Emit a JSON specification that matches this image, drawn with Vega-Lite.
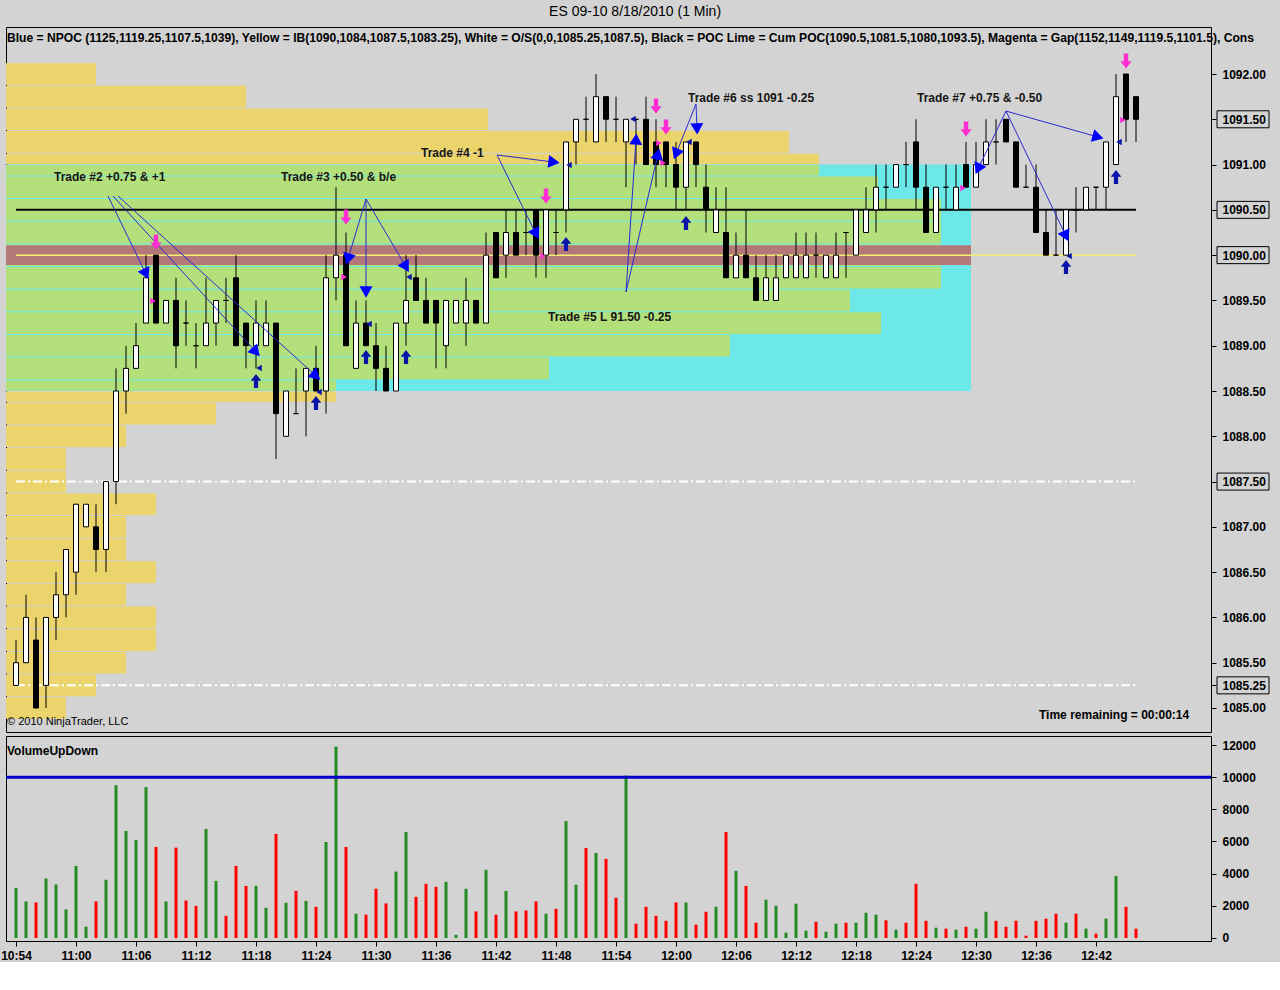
{
  "$schema": "https://vega.github.io/schema/vega-lite/v6.json",
  "background": "#d3d3d3",
  "padding": {"left": 0, "top": 4, "right": 12, "bottom": 0},
  "title": {"text": "ES 09-10  8/18/2010 (1 Min)", "anchor": "middle", "fontSize": 14, "fontWeight": "normal", "color": "#000", "offset": 8},
  "config": {
    "font": "Liberation Sans",
    "view": {"stroke": "#000", "strokeWidth": 1}
  },
  "data": {"name": "bars", "format": {"parse": {"time": "date:'%H:%M'"}}},
  "datasets": {
    "bars": [
      {"time":"10:54","open":1085.25,"high":1085.75,"low":1085.25,"close":1085.5,"vol":3120},
      {"time":"10:55","open":1085.5,"high":1086.25,"low":1085.5,"close":1086,"vol":2270},
      {"time":"10:56","open":1085.75,"high":1086,"low":1085,"close":1085,"vol":2210},
      {"time":"10:57","open":1085.25,"high":1086,"low":1085,"close":1086,"vol":3700},
      {"time":"10:58","open":1086,"high":1086.5,"low":1085.75,"close":1086.25,"vol":3330},
      {"time":"10:59","open":1086.25,"high":1086.75,"low":1086,"close":1086.75,"vol":1780},
      {"time":"11:00","open":1086.5,"high":1087.25,"low":1086.25,"close":1087.25,"vol":4480},
      {"time":"11:01","open":1087,"high":1087.25,"low":1087,"close":1087.25,"vol":700},
      {"time":"11:02","open":1087,"high":1087.25,"low":1086.5,"close":1086.75,"vol":2270},
      {"time":"11:03","open":1086.75,"high":1087.5,"low":1086.5,"close":1087.5,"vol":3620},
      {"time":"11:04","open":1087.5,"high":1088.75,"low":1087.25,"close":1088.5,"vol":9500},
      {"time":"11:05","open":1088.5,"high":1089,"low":1088.25,"close":1088.75,"vol":6650},
      {"time":"11:06","open":1088.75,"high":1089.25,"low":1088.75,"close":1089,"vol":6100},
      {"time":"11:07","open":1089.25,"high":1090,"low":1089.25,"close":1089.75,"vol":9380},
      {"time":"11:08","open":1090,"high":1090,"low":1089.25,"close":1089.25,"vol":5660},
      {"time":"11:09","open":1089.25,"high":1089.5,"low":1089.25,"close":1089.5,"vol":2270},
      {"time":"11:10","open":1089.5,"high":1089.75,"low":1088.75,"close":1089,"vol":5620},
      {"time":"11:11","open":1089.25,"high":1089.5,"low":1089,"close":1089.25,"vol":2330},
      {"time":"11:12","open":1089,"high":1089.25,"low":1088.75,"close":1089,"vol":2000},
      {"time":"11:13","open":1089,"high":1089.75,"low":1089,"close":1089.25,"vol":6780},
      {"time":"11:14","open":1089.25,"high":1089.5,"low":1089,"close":1089.5,"vol":3550},
      {"time":"11:15","open":1089.5,"high":1089.75,"low":1089.25,"close":1089.5,"vol":1380},
      {"time":"11:16","open":1089.75,"high":1090,"low":1089,"close":1089,"vol":4480},
      {"time":"11:17","open":1089.25,"high":1089.25,"low":1088.75,"close":1089,"vol":3240},
      {"time":"11:18","open":1089,"high":1089.5,"low":1088.75,"close":1089.25,"vol":3240},
      {"time":"11:19","open":1089,"high":1089.5,"low":1089,"close":1089.25,"vol":1880},
      {"time":"11:20","open":1089.25,"high":1089.25,"low":1087.75,"close":1088.25,"vol":6470},
      {"time":"11:21","open":1088,"high":1088.5,"low":1088,"close":1088.5,"vol":2190},
      {"time":"11:22","open":1088.25,"high":1088.75,"low":1088.25,"close":1088.25,"vol":2930},
      {"time":"11:23","open":1088.5,"high":1088.75,"low":1088,"close":1088.75,"vol":2310},
      {"time":"11:24","open":1088.75,"high":1089,"low":1088.5,"close":1088.5,"vol":1940},
      {"time":"11:25","open":1088.5,"high":1090,"low":1088.25,"close":1089.75,"vol":5970},
      {"time":"11:26","open":1089.75,"high":1090.75,"low":1089.5,"close":1090,"vol":11900},
      {"time":"11:27","open":1090,"high":1090.25,"low":1089,"close":1089,"vol":5660},
      {"time":"11:28","open":1088.75,"high":1089.5,"low":1088.75,"close":1089.25,"vol":1510},
      {"time":"11:29","open":1089.25,"high":1089.5,"low":1089,"close":1089,"vol":1450},
      {"time":"11:30","open":1089,"high":1089.25,"low":1088.5,"close":1088.75,"vol":3060},
      {"time":"11:31","open":1088.75,"high":1089,"low":1088.5,"close":1088.5,"vol":2150},
      {"time":"11:32","open":1088.5,"high":1089.25,"low":1088.5,"close":1089.25,"vol":4130},
      {"time":"11:33","open":1089.25,"high":1090,"low":1089,"close":1089.5,"vol":6590},
      {"time":"11:34","open":1089.75,"high":1090,"low":1089.5,"close":1089.5,"vol":2560},
      {"time":"11:35","open":1089.5,"high":1089.75,"low":1089.25,"close":1089.25,"vol":3370},
      {"time":"11:36","open":1089.5,"high":1089.5,"low":1088.75,"close":1089.25,"vol":3180},
      {"time":"11:37","open":1089,"high":1089.5,"low":1088.75,"close":1089.5,"vol":3490},
      {"time":"11:38","open":1089.25,"high":1089.5,"low":1089.25,"close":1089.5,"vol":200},
      {"time":"11:39","open":1089.25,"high":1089.75,"low":1089,"close":1089.5,"vol":3060},
      {"time":"11:40","open":1089.5,"high":1089.5,"low":1089.25,"close":1089.25,"vol":1650},
      {"time":"11:41","open":1089.25,"high":1090.25,"low":1089.25,"close":1090,"vol":4240},
      {"time":"11:42","open":1090.25,"high":1090.25,"low":1089.75,"close":1089.75,"vol":1450},
      {"time":"11:43","open":1090,"high":1090.5,"low":1089.75,"close":1090.25,"vol":2930},
      {"time":"11:44","open":1090.25,"high":1090.5,"low":1090,"close":1090,"vol":1650},
      {"time":"11:45","open":1090.25,"high":1090.5,"low":1090,"close":1090.25,"vol":1710},
      {"time":"11:46","open":1090.5,"high":1090.5,"low":1089.75,"close":1090,"vol":2270},
      {"time":"11:47","open":1090,"high":1090.5,"low":1089.75,"close":1090.5,"vol":1510},
      {"time":"11:48","open":1090.25,"high":1090.5,"low":1090,"close":1090.25,"vol":1820},
      {"time":"11:49","open":1090.5,"high":1091.25,"low":1090.25,"close":1091.25,"vol":7270},
      {"time":"11:50","open":1091.25,"high":1091.5,"low":1091,"close":1091.5,"vol":3310},
      {"time":"11:51","open":1091.5,"high":1091.75,"low":1091.25,"close":1091.5,"vol":5600},
      {"time":"11:52","open":1091.25,"high":1092,"low":1091.25,"close":1091.75,"vol":5290},
      {"time":"11:53","open":1091.75,"high":1091.75,"low":1091.25,"close":1091.5,"vol":4920},
      {"time":"11:54","open":1091.5,"high":1091.75,"low":1091.25,"close":1091.5,"vol":2500},
      {"time":"11:55","open":1091.25,"high":1091.5,"low":1090.75,"close":1091.5,"vol":10100},
      {"time":"11:56","open":1091.5,"high":1091.5,"low":1091,"close":1091.5,"vol":890},
      {"time":"11:57","open":1091.5,"high":1091.75,"low":1091,"close":1091,"vol":1940},
      {"time":"11:58","open":1091.25,"high":1091.5,"low":1090.75,"close":1091,"vol":1380},
      {"time":"11:59","open":1091.25,"high":1091.25,"low":1090.75,"close":1091,"vol":1070},
      {"time":"12:00","open":1091,"high":1091.25,"low":1090.5,"close":1090.75,"vol":2210},
      {"time":"12:01","open":1090.75,"high":1091.25,"low":1090.5,"close":1091.25,"vol":2210},
      {"time":"12:02","open":1091.25,"high":1091.25,"low":1090.75,"close":1091,"vol":830},
      {"time":"12:03","open":1090.75,"high":1091,"low":1090.25,"close":1090.5,"vol":1630},
      {"time":"12:04","open":1090.25,"high":1090.75,"low":1090.25,"close":1090.5,"vol":1940},
      {"time":"12:05","open":1090.25,"high":1090.75,"low":1089.75,"close":1089.75,"vol":6590},
      {"time":"12:06","open":1089.75,"high":1090.25,"low":1089.75,"close":1090,"vol":4170},
      {"time":"12:07","open":1090,"high":1090.5,"low":1089.75,"close":1089.75,"vol":3240},
      {"time":"12:08","open":1089.75,"high":1090,"low":1089.5,"close":1089.5,"vol":950},
      {"time":"12:09","open":1089.5,"high":1090,"low":1089.5,"close":1089.75,"vol":2380},
      {"time":"12:10","open":1089.5,"high":1090,"low":1089.5,"close":1089.75,"vol":2000},
      {"time":"12:11","open":1089.75,"high":1090,"low":1089.75,"close":1090,"vol":330},
      {"time":"12:12","open":1089.75,"high":1090.25,"low":1089.75,"close":1090,"vol":2130},
      {"time":"12:13","open":1089.75,"high":1090.25,"low":1089.75,"close":1090,"vol":450},
      {"time":"12:14","open":1090,"high":1090.25,"low":1089.75,"close":1090,"vol":1010},
      {"time":"12:15","open":1089.75,"high":1090,"low":1089.75,"close":1090,"vol":390},
      {"time":"12:16","open":1089.75,"high":1090.25,"low":1089.75,"close":1090,"vol":890},
      {"time":"12:17","open":1090.25,"high":1090.25,"low":1089.75,"close":1090.25,"vol":950},
      {"time":"12:18","open":1090,"high":1090.5,"low":1090,"close":1090.5,"vol":950},
      {"time":"12:19","open":1090.25,"high":1090.75,"low":1090.25,"close":1090.5,"vol":1570},
      {"time":"12:20","open":1090.5,"high":1091,"low":1090.25,"close":1090.75,"vol":1450},
      {"time":"12:21","open":1090.75,"high":1091,"low":1090.5,"close":1090.75,"vol":1100},
      {"time":"12:22","open":1090.75,"high":1091,"low":1090.75,"close":1091,"vol":520},
      {"time":"12:23","open":1091,"high":1091.25,"low":1090.75,"close":1091,"vol":950},
      {"time":"12:24","open":1091.25,"high":1091.5,"low":1090.5,"close":1090.75,"vol":3370},
      {"time":"12:25","open":1090.75,"high":1091,"low":1090.25,"close":1090.25,"vol":1070},
      {"time":"12:26","open":1090.25,"high":1090.75,"low":1090.25,"close":1090.75,"vol":640},
      {"time":"12:27","open":1090.75,"high":1091,"low":1090.5,"close":1090.75,"vol":580},
      {"time":"12:28","open":1090.5,"high":1091,"low":1090.5,"close":1090.75,"vol":520},
      {"time":"12:29","open":1091,"high":1091.25,"low":1090.75,"close":1090.75,"vol":700},
      {"time":"12:30","open":1090.75,"high":1091.25,"low":1090.75,"close":1091,"vol":580},
      {"time":"12:31","open":1091,"high":1091.5,"low":1091,"close":1091.25,"vol":1630},
      {"time":"12:32","open":1091.25,"high":1091.5,"low":1091,"close":1091.25,"vol":1070},
      {"time":"12:33","open":1091.5,"high":1091.5,"low":1091.25,"close":1091.25,"vol":700},
      {"time":"12:34","open":1091.25,"high":1091.25,"low":1090.75,"close":1090.75,"vol":1070},
      {"time":"12:35","open":1090.75,"high":1091,"low":1090.75,"close":1090.75,"vol":145},
      {"time":"12:36","open":1090.75,"high":1091,"low":1090.25,"close":1090.25,"vol":1070},
      {"time":"12:37","open":1090.25,"high":1090.5,"low":1090,"close":1090,"vol":1200},
      {"time":"12:38","open":1090,"high":1090.5,"low":1090,"close":1090,"vol":1510},
      {"time":"12:39","open":1090,"high":1090.5,"low":1090,"close":1090.5,"vol":950},
      {"time":"12:40","open":1090.5,"high":1090.75,"low":1090.25,"close":1090.5,"vol":1510},
      {"time":"12:41","open":1090.5,"high":1090.75,"low":1090.5,"close":1090.75,"vol":580},
      {"time":"12:42","open":1090.75,"high":1090.75,"low":1090.5,"close":1090.75,"vol":270},
      {"time":"12:43","open":1090.75,"high":1091.25,"low":1090.5,"close":1091.25,"vol":1200},
      {"time":"12:44","open":1091,"high":1092,"low":1091,"close":1091.75,"vol":3860},
      {"time":"12:45","open":1092,"high":1092,"low":1091.25,"close":1091.5,"vol":1940},
      {"time":"12:46","open":1091.75,"high":1091.75,"low":1091.25,"close":1091.5,"vol":580}
    ],
    "valueArea": [
      {"lo":1088.5,"hi":1091.0,"start":"10:53:00","end":"12:29:30"}
    ],
    "gapBand": [
      {"lo":1089.89,"hi":1090.11,"start":"10:53:00","end":"12:29:30"}
    ],
    "profile": [
      {"lo":1091.875,"hi":1092.125,"start":"10:53:00","end":"11:02:00","zone":"outside"},
      {"lo":1091.625,"hi":1091.875,"start":"10:53:00","end":"11:17:00","zone":"outside"},
      {"lo":1091.375,"hi":1091.625,"start":"10:53:00","end":"11:41:12","zone":"outside"},
      {"lo":1091.125,"hi":1091.375,"start":"10:53:00","end":"12:11:18","zone":"outside"},
      {"lo":1091.0,"hi":1091.125,"start":"10:53:00","end":"12:14:18","zone":"outside"},
      {"lo":1090.875,"hi":1091.0,"start":"10:53:00","end":"12:14:18","zone":"value area"},
      {"lo":1090.625,"hi":1090.875,"start":"10:53:00","end":"12:20:12","zone":"value area"},
      {"lo":1090.375,"hi":1090.625,"start":"10:53:00","end":"12:26:30","zone":"value area"},
      {"lo":1090.125,"hi":1090.375,"start":"10:53:00","end":"12:26:30","zone":"value area"},
      {"lo":1089.875,"hi":1090.125,"start":"10:53:00","end":"12:26:30","zone":"value area"},
      {"lo":1089.625,"hi":1089.875,"start":"10:53:00","end":"12:26:30","zone":"value area"},
      {"lo":1089.375,"hi":1089.625,"start":"10:53:00","end":"12:17:24","zone":"value area"},
      {"lo":1089.125,"hi":1089.375,"start":"10:53:00","end":"12:20:30","zone":"value area"},
      {"lo":1088.875,"hi":1089.125,"start":"10:53:00","end":"12:05:24","zone":"value area"},
      {"lo":1088.625,"hi":1088.875,"start":"10:53:00","end":"11:47:18","zone":"value area"},
      {"lo":1088.5,"hi":1088.625,"start":"10:53:00","end":"11:26:00","zone":"value area"},
      {"lo":1088.375,"hi":1088.5,"start":"10:53:00","end":"11:26:00","zone":"outside"},
      {"lo":1088.125,"hi":1088.375,"start":"10:53:00","end":"11:14:00","zone":"outside"},
      {"lo":1087.875,"hi":1088.125,"start":"10:53:00","end":"11:05:00","zone":"outside"},
      {"lo":1087.625,"hi":1087.875,"start":"10:53:00","end":"10:59:00","zone":"outside"},
      {"lo":1087.375,"hi":1087.625,"start":"10:53:00","end":"10:59:00","zone":"outside"},
      {"lo":1087.125,"hi":1087.375,"start":"10:53:00","end":"11:08:00","zone":"outside"},
      {"lo":1086.875,"hi":1087.125,"start":"10:53:00","end":"11:05:00","zone":"outside"},
      {"lo":1086.625,"hi":1086.875,"start":"10:53:00","end":"11:05:00","zone":"outside"},
      {"lo":1086.375,"hi":1086.625,"start":"10:53:00","end":"11:08:00","zone":"outside"},
      {"lo":1086.125,"hi":1086.375,"start":"10:53:00","end":"11:05:00","zone":"outside"},
      {"lo":1085.875,"hi":1086.125,"start":"10:53:00","end":"11:08:00","zone":"outside"},
      {"lo":1085.625,"hi":1085.875,"start":"10:53:00","end":"11:08:00","zone":"outside"},
      {"lo":1085.375,"hi":1085.625,"start":"10:53:00","end":"11:05:00","zone":"outside"},
      {"lo":1085.125,"hi":1085.375,"start":"10:53:00","end":"11:02:00","zone":"outside"},
      {"lo":1084.875,"hi":1085.125,"start":"10:53:00","end":"10:59:00","zone":"outside"}
    ],
    "levels": [
      {"kind":"POC","level":1090.5,"start":"10:54:00","end":"12:46:00"},
      {"kind":"IB","level":1090.0,"start":"10:54:00","end":"12:46:00"},
      {"kind":"O/S","level":1087.5,"start":"10:54:00","end":"12:46:00"},
      {"kind":"O/S","level":1085.25,"start":"10:54:00","end":"12:46:00"}
    ],
    "markers": [
      {"level":1091.5,"start":"12:54:06","end":"12:59:18"},
      {"level":1090.5,"start":"12:54:06","end":"12:59:18"},
      {"level":1090.0,"start":"12:54:06","end":"12:59:18"},
      {"level":1087.5,"start":"12:54:06","end":"12:59:18"},
      {"level":1085.25,"start":"12:54:06","end":"12:59:18"}
    ],
    "arrows": [
      {"trade":2,"from":"11:03:12","p1":1090.653,"to":"11:07:00","p2":1089.792},
      {"trade":2,"from":"11:03:42","p1":1090.653,"to":"11:18:00","p2":1088.931},
      {"trade":2,"from":"11:04:12","p1":1090.653,"to":"11:24:00","p2":1088.666},
      {"trade":3,"from":"11:29:00","p1":1090.62,"to":"11:27:12","p2":1089.957},
      {"trade":3,"from":"11:29:00","p1":1090.62,"to":"11:29:00","p2":1089.593},
      {"trade":3,"from":"11:29:00","p1":1090.62,"to":"11:33:00","p2":1089.869},
      {"trade":4,"from":"11:42:06","p1":1091.106,"to":"11:47:48","p2":1091.028},
      {"trade":4,"from":"11:42:06","p1":1091.106,"to":"11:46:00","p2":1090.233},
      {"trade":5,"from":"11:55:00","p1":1089.593,"to":"11:56:00","p2":1091.282},
      {"trade":5,"from":"11:55:00","p1":1089.593,"to":"11:58:12","p2":1091.117},
      {"trade":6,"from":"12:02:00","p1":1091.669,"to":"12:00:00","p2":1091.117},
      {"trade":6,"from":"12:02:00","p1":1091.669,"to":"12:02:06","p2":1091.393},
      {"trade":7,"from":"12:33:00","p1":1091.591,"to":"12:30:12","p2":1090.951},
      {"trade":7,"from":"12:33:00","p1":1091.591,"to":"12:42:12","p2":1091.304},
      {"trade":7,"from":"12:33:00","p1":1091.591,"to":"12:39:00","p2":1090.211}
    ],
    "signals": [
      {"time":"11:08:00","price":1090.145,"side":"sell"},
      {"time":"11:27:00","price":1090.421,"side":"sell"},
      {"time":"11:47:00","price":1090.653,"side":"sell"},
      {"time":"11:58:00","price":1091.647,"side":"sell"},
      {"time":"11:59:00","price":1091.415,"side":"sell"},
      {"time":"12:29:00","price":1091.393,"side":"sell"},
      {"time":"12:45:00","price":1092.144,"side":"sell"},
      {"time":"11:18:00","price":1088.61,"side":"buy"},
      {"time":"11:24:00","price":1088.367,"side":"buy"},
      {"time":"11:29:00","price":1088.875,"side":"buy"},
      {"time":"11:33:00","price":1088.875,"side":"buy"},
      {"time":"11:49:00","price":1090.123,"side":"buy"},
      {"time":"12:01:00","price":1090.355,"side":"buy"},
      {"time":"12:39:00","price":1089.869,"side":"buy"},
      {"time":"12:44:00","price":1090.863,"side":"buy"}
    ],
    "fills": [
      {"time":"11:07:42","price":1089.494,"side":"sell"},
      {"time":"11:26:48","price":1089.759,"side":"sell"},
      {"time":"11:46:42","price":1089.99,"side":"sell"},
      {"time":"11:58:18","price":1091.238,"side":"sell"},
      {"time":"11:58:42","price":1091.017,"side":"sell"},
      {"time":"12:28:42","price":1090.741,"side":"sell"},
      {"time":"12:44:42","price":1091.492,"side":"sell"},
      {"time":"11:18:18","price":1088.754,"side":"buy"},
      {"time":"11:24:18","price":1088.489,"side":"buy"},
      {"time":"11:29:18","price":1089.24,"side":"buy"},
      {"time":"11:33:18","price":1089.759,"side":"buy"},
      {"time":"11:49:18","price":1090.995,"side":"buy"},
      {"time":"11:55:42","price":1091.503,"side":"buy"},
      {"time":"12:01:18","price":1091.249,"side":"buy"},
      {"time":"12:39:18","price":1089.99,"side":"buy"},
      {"time":"12:44:18","price":1091.249,"side":"buy"}
    ],
    "notes": [
      {"kind":"trade","time":"10:57:48","price":1090.863,"label":"Trade #2 +0.75 & +1"},
      {"kind":"trade","time":"11:20:30","price":1090.863,"label":"Trade #3 +0.50 & b/e"},
      {"kind":"trade","time":"11:34:30","price":1091.128,"label":"Trade #4 -1"},
      {"kind":"trade","time":"11:47:12","price":1089.317,"label":"Trade #5 L 91.50 -0.25"},
      {"kind":"trade","time":"12:01:12","price":1091.735,"label":"Trade #6 ss 1091 -0.25"},
      {"kind":"trade","time":"12:24:06","price":1091.735,"label":"Trade #7 +0.75 & -0.50"},
      {"kind":"header","time":"10:53:06","price":1092.397,"label":"Blue = NPOC  (1125,1119.25,1107.5,1039), Yellow = IB(1090,1084,1087.5,1083.25), White =  O/S(0,0,1085.25,1087.5), Black = POC  Lime = Cum POC(1090.5,1081.5,1080,1093.5), Magenta = Gap(1152,1149,1119.5,1101.5), Cons"},
      {"kind":"footer","time":"10:53:06","price":1084.845,"label":"© 2010 NinjaTrader, LLC"},
      {"kind":"status","time":"12:36:18","price":1084.923,"label":"Time remaining = 00:00:14"}
    ]
  },
  "spacing": 2,
  "resolve": {"scale": {"x": "shared", "y": "independent"}},
  "vconcat": [
    {
      "width": 1205,
      "height": 705,
      "resolve": {"axis": {"x": "independent", "y": "independent"}},
      "layer": [
        {
          "data": {"name": "valueArea", "format": {"parse": {"start": "date:'%H:%M:%S'", "end": "date:'%H:%M:%S'"}}},
          "mark": {"type": "rect", "color": "#6ce8e8"},
          "encoding": {
            "x": {"field": "start", "type": "temporal",
                  "scale": {"domain": [{"year": 1900, "month": 1, "date": 1, "hours": 10, "minutes": 53}, {"year": 1900, "month": 1, "date": 1, "hours": 12, "minutes": 53, "seconds": 30}], "padding": 0},
                  "axis": null},
            "x2": {"field": "end"},
            "y": {"field": "lo", "type": "quantitative",
                  "scale": {"domain": [1084.735, 1092.519], "nice": false, "zero": false, "padding": 0},
                  "axis": {"orient": "right", "title": null, "format": ".2f", "grid": false, "tickSize": 5, "labelPadding": 6,
                           "labelFontSize": 12, "labelFontWeight": "bold", "labelColor": "#000", "tickColor": "#000", "domainColor": "#000", "labelOverlap": false,
                           "values": [1085, 1085.25, 1085.5, 1086, 1086.5, 1087, 1087.5, 1088, 1088.5, 1089, 1089.5, 1090, 1090.5, 1091, 1091.5, 1092]}},
            "y2": {"field": "hi"}
          }
        },
        {
          "data": {"name": "profile", "format": {"parse": {"start": "date:'%H:%M:%S'", "end": "date:'%H:%M:%S'"}}},
          "mark": {"type": "rect", "yOffset": -0.5, "y2Offset": 0.5},
          "encoding": {
            "x": {"field": "start", "type": "temporal", "axis": null},
            "x2": {"field": "end"},
            "y": {"field": "lo", "type": "quantitative", "axis": null},
            "y2": {"field": "hi"},
            "color": {"field": "zone", "type": "nominal", "scale": {"domain": ["outside", "value area"], "range": ["#ecd46c", "#b4e07c"]}, "legend": null}
          }
        },
        {
          "data": {"name": "gapBand", "format": {"parse": {"start": "date:'%H:%M:%S'", "end": "date:'%H:%M:%S'"}}},
          "mark": {"type": "rect", "color": "#b47878"},
          "encoding": {
            "x": {"field": "start", "type": "temporal", "axis": null},
            "x2": {"field": "end"},
            "y": {"field": "lo", "type": "quantitative", "axis": null},
            "y2": {"field": "hi"}
          }
        },
        {
          "data": {"name": "levels", "format": {"parse": {"start": "date:'%H:%M:%S'", "end": "date:'%H:%M:%S'"}}},
          "layer": [
            {
              "transform": [{"filter": "datum.kind == 'POC'"}],
              "mark": {"type": "rule", "color": "#000", "strokeWidth": 2},
              "encoding": {
                "x": {"field": "start", "type": "temporal", "axis": null},
                "x2": {"field": "end"},
                "y": {"field": "level", "type": "quantitative", "axis": null}
              }
            },
            {
              "transform": [{"filter": "datum.kind == 'IB'"}],
              "mark": {"type": "rule", "color": "#f6ee72", "strokeWidth": 1.5},
              "encoding": {
                "x": {"field": "start", "type": "temporal", "axis": null},
                "x2": {"field": "end"},
                "y": {"field": "level", "type": "quantitative", "axis": null}
              }
            },
            {
              "transform": [{"filter": "datum.kind == 'O/S'"}],
              "mark": {"type": "rule", "color": "#ffffff", "strokeWidth": 2, "strokeDash": [9, 3, 2, 3]},
              "encoding": {
                "x": {"field": "start", "type": "temporal", "axis": null},
                "x2": {"field": "end"},
                "y": {"field": "level", "type": "quantitative", "axis": null}
              }
            }
          ]
        },
        {
          "data": {"name": "markers", "format": {"parse": {"start": "date:'%H:%M:%S'", "end": "date:'%H:%M:%S'"}}},
          "mark": {"type": "rect", "fill": "transparent", "stroke": "#000", "strokeWidth": 1, "yOffset": 8.5, "y2Offset": -8.5},
          "encoding": {
            "x": {"field": "start", "type": "temporal", "axis": null},
            "x2": {"field": "end"},
            "y": {"field": "level", "type": "quantitative", "axis": null},
            "y2": {"field": "level"}
          }
        },
        {
          "layer": [
            {
              "mark": {"type": "rule", "color": "#000", "strokeWidth": 1},
              "encoding": {
                "x": {"field": "time", "type": "temporal", "axis": null},
                "y": {"field": "low", "type": "quantitative", "axis": null},
                "y2": {"field": "high"}
              }
            },
            {
              "mark": {"type": "bar", "width": 5, "stroke": "#000", "strokeWidth": 1},
              "encoding": {
                "x": {"field": "time", "type": "temporal", "axis": null},
                "y": {"field": "open", "type": "quantitative", "axis": null},
                "y2": {"field": "close"},
                "fill": {"condition": {"test": "datum.close < datum.open", "value": "#000000"}, "value": "#ffffff"}
              }
            }
          ]
        },
        {
          "data": {"name": "fills", "format": {"parse": {"time": "date:'%H:%M:%S'"}}},
          "layer": [
            {
              "transform": [{"filter": "datum.side == 'sell'"}],
              "mark": {"type": "point", "shape": "triangle-right", "filled": true, "color": "#ff2dd2", "size": 40, "opacity": 1},
              "encoding": {
                "x": {"field": "time", "type": "temporal", "axis": null},
                "y": {"field": "price", "type": "quantitative", "axis": null}
              }
            },
            {
              "transform": [{"filter": "datum.side == 'buy'"}],
              "mark": {"type": "point", "shape": "triangle-left", "filled": true, "color": "#0a14a8", "size": 40, "opacity": 1},
              "encoding": {
                "x": {"field": "time", "type": "temporal", "axis": null},
                "y": {"field": "price", "type": "quantitative", "axis": null}
              }
            }
          ]
        },
        {
          "data": {"name": "arrows", "format": {"parse": {"from": "date:'%H:%M:%S'", "to": "date:'%H:%M:%S'"}}},
          "layer": [
            {
              "mark": {"type": "rule", "color": "#2a2ad0", "strokeWidth": 1},
              "encoding": {
                "x": {"field": "from", "type": "temporal", "axis": null},
                "x2": {"field": "to"},
                "y": {"field": "p1", "type": "quantitative", "axis": null},
                "y2": {"field": "p2"}
              }
            },
            {
              "transform": [{"calculate": "atan2((time(datum.to) - time(datum.from)) / 6000, (datum.p2 - datum.p1) * 90.571) * 180 / PI", "as": "heading"}],
              "mark": {"type": "point", "shape": "triangle-up", "filled": true, "color": "#0000ff", "size": 170, "opacity": 1},
              "encoding": {
                "x": {"field": "to", "type": "temporal", "axis": null},
                "y": {"field": "p2", "type": "quantitative", "axis": null},
                "angle": {"field": "heading", "type": "quantitative", "scale": null}
              }
            }
          ]
        },
        {
          "data": {"name": "signals", "format": {"parse": {"time": "date:'%H:%M:%S'"}}},
          "layer": [
            {
              "transform": [{"filter": "datum.side == 'sell'"}],
              "mark": {"type": "point", "shape": "M-0.3,-1H0.3V0.05H0.75L0,1L-0.75,0.05H-0.3Z", "filled": true, "color": "#ff2dd2", "size": 220, "opacity": 1},
              "encoding": {
                "x": {"field": "time", "type": "temporal", "axis": null},
                "y": {"field": "price", "type": "quantitative", "axis": null}
              }
            },
            {
              "transform": [{"filter": "datum.side == 'buy'"}],
              "mark": {"type": "point", "shape": "M-0.3,1H0.3V-0.05H0.75L0,-1L-0.75,-0.05H-0.3Z", "filled": true, "color": "#0a14a8", "size": 200, "opacity": 1},
              "encoding": {
                "x": {"field": "time", "type": "temporal", "axis": null},
                "y": {"field": "price", "type": "quantitative", "axis": null}
              }
            }
          ]
        },
        {
          "data": {"name": "notes", "format": {"parse": {"time": "date:'%H:%M:%S'"}}},
          "layer": [
            {
              "transform": [{"filter": "datum.kind == 'trade'"}],
              "mark": {"type": "text", "align": "left", "baseline": "middle", "fontSize": 12, "fontWeight": "bold", "color": "#151515"},
              "encoding": {
                "x": {"field": "time", "type": "temporal", "axis": null},
                "y": {"field": "price", "type": "quantitative", "axis": null},
                "text": {"field": "label", "type": "nominal"}
              }
            },
            {
              "transform": [{"filter": "datum.kind == 'header'"}],
              "mark": {"type": "text", "align": "left", "baseline": "middle", "fontSize": 12.1, "fontWeight": "bold", "color": "#000"},
              "encoding": {
                "x": {"field": "time", "type": "temporal", "axis": null},
                "y": {"field": "price", "type": "quantitative", "axis": null},
                "text": {"field": "label", "type": "nominal"}
              }
            },
            {
              "transform": [{"filter": "datum.kind == 'status'"}],
              "mark": {"type": "text", "align": "left", "baseline": "middle", "fontSize": 12, "fontWeight": "bold", "color": "#000"},
              "encoding": {
                "x": {"field": "time", "type": "temporal", "axis": null},
                "y": {"field": "price", "type": "quantitative", "axis": null},
                "text": {"field": "label", "type": "nominal"}
              }
            },
            {
              "transform": [{"filter": "datum.kind == 'footer'"}],
              "mark": {"type": "text", "align": "left", "baseline": "middle", "fontSize": 11, "color": "#000"},
              "encoding": {
                "x": {"field": "time", "type": "temporal", "axis": null},
                "y": {"field": "price", "type": "quantitative", "axis": null},
                "text": {"field": "label", "type": "nominal"}
              }
            }
          ]
        }
      ]
    },
    {
      "width": 1205,
      "height": 205,
      "resolve": {"axis": {"x": "independent", "y": "independent"}},
      "layer": [
        {
          "mark": {"type": "bar", "width": 3},
          "encoding": {
            "x": {"field": "time", "type": "temporal",
                  "scale": {"domain": [{"year": 1900, "month": 1, "date": 1, "hours": 10, "minutes": 53}, {"year": 1900, "month": 1, "date": 1, "hours": 12, "minutes": 53, "seconds": 30}], "padding": 0},
                  "axis": {"title": null, "format": "%H:%M", "grid": false, "tickSize": 5, "labelPadding": 4,
                           "labelFontSize": 12, "labelFontWeight": "bold", "labelColor": "#000", "tickColor": "#000", "domainColor": "#000", "labelOverlap": false,
                           "values": [
                             {"year": 1900, "month": 1, "date": 1, "hours": 10, "minutes": 54},
                             {"year": 1900, "month": 1, "date": 1, "hours": 11, "minutes": 0},
                             {"year": 1900, "month": 1, "date": 1, "hours": 11, "minutes": 6},
                             {"year": 1900, "month": 1, "date": 1, "hours": 11, "minutes": 12},
                             {"year": 1900, "month": 1, "date": 1, "hours": 11, "minutes": 18},
                             {"year": 1900, "month": 1, "date": 1, "hours": 11, "minutes": 24},
                             {"year": 1900, "month": 1, "date": 1, "hours": 11, "minutes": 30},
                             {"year": 1900, "month": 1, "date": 1, "hours": 11, "minutes": 36},
                             {"year": 1900, "month": 1, "date": 1, "hours": 11, "minutes": 42},
                             {"year": 1900, "month": 1, "date": 1, "hours": 11, "minutes": 48},
                             {"year": 1900, "month": 1, "date": 1, "hours": 11, "minutes": 54},
                             {"year": 1900, "month": 1, "date": 1, "hours": 12, "minutes": 0},
                             {"year": 1900, "month": 1, "date": 1, "hours": 12, "minutes": 6},
                             {"year": 1900, "month": 1, "date": 1, "hours": 12, "minutes": 12},
                             {"year": 1900, "month": 1, "date": 1, "hours": 12, "minutes": 18},
                             {"year": 1900, "month": 1, "date": 1, "hours": 12, "minutes": 24},
                             {"year": 1900, "month": 1, "date": 1, "hours": 12, "minutes": 30},
                             {"year": 1900, "month": 1, "date": 1, "hours": 12, "minutes": 36},
                             {"year": 1900, "month": 1, "date": 1, "hours": 12, "minutes": 42}
                           ]}},
            "y": {"field": "vol", "type": "quantitative",
                  "scale": {"domain": [-187, 12560], "nice": false, "zero": false, "padding": 0},
                  "axis": {"orient": "right", "title": null, "format": "d", "grid": false, "tickSize": 5, "labelPadding": 6,
                           "labelFontSize": 12, "labelFontWeight": "bold", "labelColor": "#000", "tickColor": "#000", "domainColor": "#000",
                           "values": [0, 2000, 4000, 6000, 8000, 10000, 12000]}},
            "color": {"condition": {"test": "datum.close > datum.open", "value": "#228b22"}, "value": "#ff0000"}
          }
        },
        {
          "data": {"values": [{"level": 10000, "label": "VolumeUpDown", "time": "10:53:06", "at": 11640}], "format": {"parse": {"time": "date:'%H:%M:%S'"}}},
          "layer": [
            {
              "mark": {"type": "rule", "color": "#0000c8", "strokeWidth": 3},
              "encoding": {"y": {"field": "level", "type": "quantitative", "axis": null}}
            },
            {
              "mark": {"type": "text", "align": "left", "baseline": "middle", "fontSize": 12, "fontWeight": "bold", "color": "#000"},
              "encoding": {
                "x": {"field": "time", "type": "temporal", "axis": null},
                "y": {"field": "at", "type": "quantitative", "axis": null},
                "text": {"field": "label", "type": "nominal"}
              }
            }
          ]
        }
      ]
    }
  ]
}
